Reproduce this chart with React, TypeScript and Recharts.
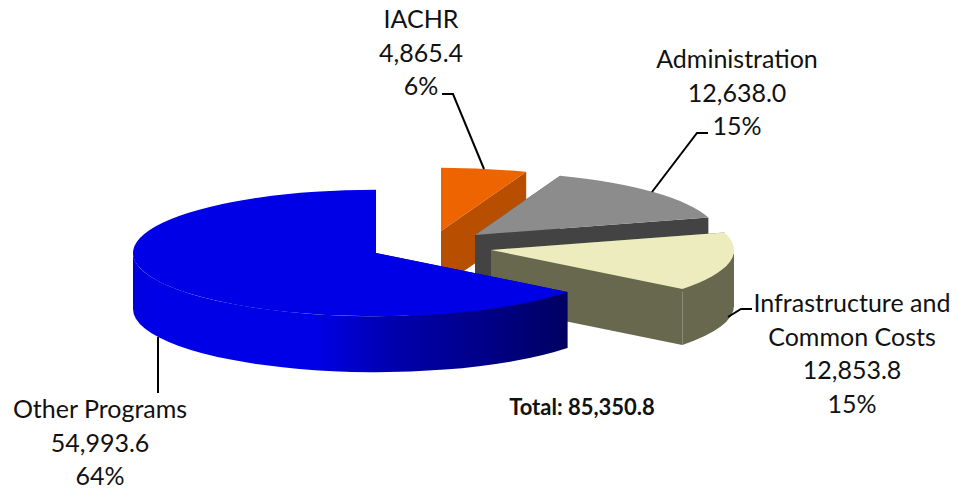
import { PieChart, Pie } from 'recharts';

const names = ['IACHR', 'Administration', 'Infrastructure and Common Costs', 'Other Programs'];
const amounts = [4865.4, 12638.0, 12853.8, 54993.6];
const totalLabel = 'Total: 85,350.8';

const pieData = names.map((name, i) => ({ name, value: amounts[i] }));

// pixel shift of each exploded slice from the pie centre
const explode = [[65, -22], [99, -18], [115, -3], [0, 0]];
const topFills = ['#ee6400', '#8c8c8c', '#ececbe', '#0000e6'];
const wallFills = ['#b84e00', '#434343', '#68684f', 'url(#blueWall)'];

const labelLines = [
    [['IACHR'], 421, 28],
    [['Administration'], 737, 68],
    [['Infrastructure and', 'Common Costs'], 852, 312],
    [['Other Programs'], 100, 418],
];
const leaders = [
    '442,94 453,94 484,169',
    '708,133 697,133 652,192',
    '752,309 741,309 728,317',
    '158,337 158,393',
];

const SQUASH = 0.26;
const DEPTH = 56;

function Slice3D(props: any) {
    const { cx, cy, outerRadius: r, startAngle, endAngle, index } = props;
    const ox = cx + explode[index][0];
    const oy = cy + explode[index][1];
    const ry = r * SQUASH;
    const px = (a: number) => ox + r * Math.cos((a * Math.PI) / 180);
    const py = (a: number) => oy - ry * Math.sin((a * Math.PI) / 180);
    const large = Math.abs(startAngle - endAngle) > 180 ? 1 : 0;
    const x0 = px(startAngle), y0 = py(startAngle), x1 = px(endAngle), y1 = py(endAngle);

    const top = `M${ox},${oy} L${x0},${y0} A${r},${ry} 0 ${large} 1 ${x1},${y1} Z`;
    const cutA = `M${ox},${oy} L${x0},${y0} L${x0},${y0 + DEPTH} L${ox},${oy + DEPTH} Z`;
    const cutB = `M${ox},${oy} L${x1},${y1} L${x1},${y1 + DEPTH} L${ox},${oy + DEPTH} Z`;

    // only the front half of the rim can be seen
    const rimFrom = Math.min(startAngle, 0);
    const rimTo = Math.max(endAngle, -180);
    let rim = '';
    if (rimFrom > rimTo) {
        const rx0 = px(rimFrom), ry0 = py(rimFrom), rx1 = px(rimTo), ry1 = py(rimTo);
        rim = `M${rx0},${ry0} A${r},${ry} 0 0 1 ${rx1},${ry1} L${rx1},${ry1 + DEPTH} A${r},${ry} 0 0 0 ${rx0},${ry0 + DEPTH} Z`;
    }
    const wall = wallFills[index];

    return (
        <g>
            <path d={cutA} fill={wall} />
            <path d={cutB} fill={wall} />
            {rim && <path d={rim} fill={wall} />}
            <path d={top} fill={topFills[index]} />
        </g>
    );
}

function SliceLabel(props: any) {
    const { index, value, percent } = props;
    const [lines, x, y] = labelLines[index] as [string[], number, number];
    const rows = [
        ...lines,
        value.toLocaleString('en-US', { minimumFractionDigits: 1 }),
        `${Math.round(percent * 100)}%`,
    ];
    return (
        <g>
            <polyline points={leaders[index]} fill="none" stroke="#000" strokeWidth={2} />
            <text fontFamily="Lato" fontSize={25} fill="#111" textAnchor="middle">
                {rows.map((row, i) => (
                    <tspan key={i} x={x} y={y + i * 33.5}>{row}</tspan>
                ))}
            </text>
        </g>
    );
}

export default function App() {
    return (
        <div style={{ position: 'absolute', left: 0, top: 0, width: 961, height: 490 }}>
            <PieChart width={961} height={490} margin={{ top: 0, right: 0, bottom: 0, left: 0 }}>
                <defs>
                    <linearGradient id="blueWall" gradientUnits="userSpaceOnUse" x1="133" y1="0" x2="567" y2="0">
                        <stop offset="0" stopColor="#0000dc" />
                        <stop offset="0.04" stopColor="#0000e6" />
                        <stop offset="0.42" stopColor="#0000e6" />
                        <stop offset="0.6" stopColor="#0000ac" />
                        <stop offset="0.8" stopColor="#00008a" />
                        <stop offset="1" stopColor="#000062" />
                    </linearGradient>
                </defs>
                <Pie
                    data={pieData}
                    dataKey="value"
                    nameKey="name"
                    cx={376}
                    cy={253}
                    innerRadius={0}
                    outerRadius={243}
                    startAngle={90}
                    endAngle={-270}
                    stroke="none"
                    shape={Slice3D}
                    label={SliceLabel}
                    labelLine={false}
                    isAnimationActive={false}
                />
                <text x={582} y={415} textAnchor="middle" fontFamily="Lato" fontWeight={700} fontSize={22} fill="#111">
                    {totalLabel}
                </text>
            </PieChart>
        </div>
    );
}
